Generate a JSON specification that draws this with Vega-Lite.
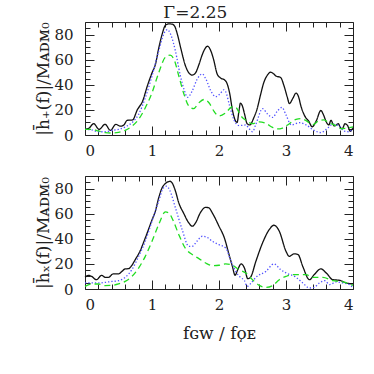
{
  "$schema": "https://vega.github.io/schema/vega-lite/v6.json",
  "padding": {"left": 34, "top": 3, "right": 0, "bottom": 0},
  "background": "white",
  "title": {"text": "Γ=2.25", "fontSize": 17, "font": "DejaVu Serif", "fontWeight": "normal", "anchor": "middle", "offset": -1, "color": "#222"},
  "config": {
    "view": {"stroke": "#222", "strokeWidth": 1},
    "axis": {"labelFont": "DejaVu Serif", "titleFont": "DejaVu Serif", "labelFontSize": 15, "titleFontSize": 17, "labelColor": "#222", "titleColor": "#222", "titleFontWeight": "normal", "grid": false, "domain": false, "tickColor": "#222", "tickWidth": 1}
  },
  "bounds": "flush",
  "spacing": 41,
  "datasets": {
    "plus": [
      {"s":"a","f":0,"v":4.5},{"s":"a","f":0.06,"v":5.5},{"s":"a","f":0.13,"v":9},{"s":"a","f":0.21,"v":4.5},{"s":"a","f":0.3,"v":8.5},{"s":"a","f":0.38,"v":3.7},{"s":"a","f":0.46,"v":8.5},{"s":"a","f":0.53,"v":7},{"s":"a","f":0.58,"v":8},{"s":"a","f":0.63,"v":11.7},{"s":"a","f":0.71,"v":12},{"s":"a","f":0.78,"v":20},{"s":"a","f":0.86,"v":27},{"s":"a","f":0.93,"v":39},{"s":"a","f":1.0,"v":49.5},{"s":"a","f":1.05,"v":56},{"s":"a","f":1.1,"v":69},{"s":"a","f":1.15,"v":80},{"s":"a","f":1.2,"v":87.4},{"s":"a","f":1.25,"v":88.5},{"s":"a","f":1.3,"v":88.3},{"s":"a","f":1.34,"v":86.5},{"s":"a","f":1.38,"v":80},{"s":"a","f":1.43,"v":69},{"s":"a","f":1.5,"v":55},{"s":"a","f":1.55,"v":49.5},{"s":"a","f":1.6,"v":47.7},{"s":"a","f":1.65,"v":49.5},{"s":"a","f":1.7,"v":56},{"s":"a","f":1.75,"v":64},{"s":"a","f":1.8,"v":69.5},{"s":"a","f":1.83,"v":70.7},{"s":"a","f":1.87,"v":68},{"s":"a","f":1.92,"v":60},{"s":"a","f":1.97,"v":49},{"s":"a","f":2.02,"v":45.5},{"s":"a","f":2.08,"v":44},{"s":"a","f":2.12,"v":41},{"s":"a","f":2.16,"v":33},{"s":"a","f":2.2,"v":20},{"s":"a","f":2.24,"v":12},{"s":"a","f":2.27,"v":10},{"s":"a","f":2.3,"v":20},{"s":"a","f":2.32,"v":25.4},{"s":"a","f":2.35,"v":23},{"s":"a","f":2.38,"v":17},{"s":"a","f":2.42,"v":9},{"s":"a","f":2.46,"v":8},{"s":"a","f":2.52,"v":13.8},{"s":"a","f":2.57,"v":21},{"s":"a","f":2.62,"v":32},{"s":"a","f":2.67,"v":42},{"s":"a","f":2.72,"v":47.5},{"s":"a","f":2.77,"v":50},{"s":"a","f":2.82,"v":48.5},{"s":"a","f":2.85,"v":47},{"s":"a","f":2.92,"v":45.8},{"s":"a","f":2.97,"v":39.2},{"s":"a","f":3.02,"v":30},{"s":"a","f":3.05,"v":25},{"s":"a","f":3.1,"v":29},{"s":"a","f":3.15,"v":33.4},{"s":"a","f":3.19,"v":30},{"s":"a","f":3.22,"v":23.6},{"s":"a","f":3.29,"v":14.2},{"s":"a","f":3.34,"v":11},{"s":"a","f":3.39,"v":6.5},{"s":"a","f":3.45,"v":11},{"s":"a","f":3.52,"v":19.5},{"s":"a","f":3.56,"v":16},{"s":"a","f":3.6,"v":10.5},{"s":"a","f":3.64,"v":8},{"s":"a","f":3.67,"v":11.7},{"s":"a","f":3.72,"v":7.2},{"s":"a","f":3.75,"v":8},{"s":"a","f":3.78,"v":9.1},{"s":"a","f":3.81,"v":6},{"s":"a","f":3.84,"v":5},{"s":"a","f":3.88,"v":9},{"s":"a","f":3.92,"v":7.4},{"s":"a","f":3.96,"v":3},{"s":"a","f":4.0,"v":6},
      {"s":"b","f":0,"v":4.5},{"s":"b","f":0.1,"v":4},{"s":"b","f":0.2,"v":2.6},{"s":"b","f":0.3,"v":2.6},{"s":"b","f":0.4,"v":3.7},{"s":"b","f":0.5,"v":4.5},{"s":"b","f":0.6,"v":6.4},{"s":"b","f":0.7,"v":9.8},{"s":"b","f":0.8,"v":16.4},{"s":"b","f":0.9,"v":29.7},{"s":"b","f":1.0,"v":47},{"s":"b","f":1.1,"v":66.8},{"s":"b","f":1.18,"v":81},{"s":"b","f":1.23,"v":84},{"s":"b","f":1.28,"v":80},{"s":"b","f":1.35,"v":66.8},{"s":"b","f":1.42,"v":48},{"s":"b","f":1.48,"v":36},{"s":"b","f":1.53,"v":30},{"s":"b","f":1.6,"v":35},{"s":"b","f":1.67,"v":44},{"s":"b","f":1.75,"v":48.7},{"s":"b","f":1.8,"v":45},{"s":"b","f":1.88,"v":35},{"s":"b","f":1.95,"v":30.5},{"s":"b","f":2.02,"v":33},{"s":"b","f":2.07,"v":36},{"s":"b","f":2.1,"v":34.4},{"s":"b","f":2.16,"v":23},{"s":"b","f":2.22,"v":12.5},{"s":"b","f":2.3,"v":7.5},{"s":"b","f":2.4,"v":8},{"s":"b","f":2.45,"v":5},{"s":"b","f":2.5,"v":2.6},{"s":"b","f":2.55,"v":8.5},{"s":"b","f":2.65,"v":21},{"s":"b","f":2.72,"v":17},{"s":"b","f":2.8,"v":14},{"s":"b","f":2.87,"v":19},{"s":"b","f":2.94,"v":22},{"s":"b","f":3.0,"v":16},{"s":"b","f":3.08,"v":8},{"s":"b","f":3.2,"v":9.8},{"s":"b","f":3.3,"v":8},{"s":"b","f":3.42,"v":3.7},{"s":"b","f":3.52,"v":1.9},{"s":"b","f":3.6,"v":4.5},{"s":"b","f":3.7,"v":8.5},{"s":"b","f":3.8,"v":7},{"s":"b","f":3.87,"v":3},{"s":"b","f":3.93,"v":2.6},{"s":"b","f":4.0,"v":5},
      {"s":"c","f":0,"v":4.5},{"s":"c","f":0.1,"v":4.5},{"s":"c","f":0.2,"v":3.2},{"s":"c","f":0.3,"v":1.9},{"s":"c","f":0.4,"v":1.6},{"s":"c","f":0.5,"v":2.1},{"s":"c","f":0.6,"v":3.7},{"s":"c","f":0.7,"v":7},{"s":"c","f":0.8,"v":12.5},{"s":"c","f":0.9,"v":21.7},{"s":"c","f":1.0,"v":33.6},{"s":"c","f":1.1,"v":49.5},{"s":"c","f":1.2,"v":62},{"s":"c","f":1.27,"v":63.6},{"s":"c","f":1.33,"v":60},{"s":"c","f":1.4,"v":47},{"s":"c","f":1.48,"v":32},{"s":"c","f":1.55,"v":23},{"s":"c","f":1.62,"v":21},{"s":"c","f":1.7,"v":25.7},{"s":"c","f":1.78,"v":28.3},{"s":"c","f":1.85,"v":25.7},{"s":"c","f":1.93,"v":18.5},{"s":"c","f":2.0,"v":15.2},{"s":"c","f":2.1,"v":17.7},{"s":"c","f":2.2,"v":22.5},{"s":"c","f":2.25,"v":22},{"s":"c","f":2.33,"v":15},{"s":"c","f":2.4,"v":11.7},{"s":"c","f":2.5,"v":9},{"s":"c","f":2.6,"v":10.5},{"s":"c","f":2.7,"v":9.3},{"s":"c","f":2.8,"v":6},{"s":"c","f":2.87,"v":4.8},{"s":"c","f":2.95,"v":5.5},{"s":"c","f":3.05,"v":9},{"s":"c","f":3.15,"v":12.5},{"s":"c","f":3.22,"v":13},{"s":"c","f":3.3,"v":11.5},{"s":"c","f":3.4,"v":8.3},{"s":"c","f":3.5,"v":11.7},{"s":"c","f":3.56,"v":12},{"s":"c","f":3.65,"v":9.5},{"s":"c","f":3.74,"v":7.5},{"s":"c","f":3.82,"v":5},{"s":"c","f":3.9,"v":5.5},{"s":"c","f":4.0,"v":6.5}
    ],
    "cross": [
      {"s":"a","f":0,"v":9.3},{"s":"a","f":0.05,"v":10.9},{"s":"a","f":0.1,"v":10},{"s":"a","f":0.17,"v":7.4},{"s":"a","f":0.25,"v":10.9},{"s":"a","f":0.3,"v":9.3},{"s":"a","f":0.35,"v":9.3},{"s":"a","f":0.42,"v":12},{"s":"a","f":0.5,"v":12},{"s":"a","f":0.55,"v":14},{"s":"a","f":0.6,"v":16},{"s":"a","f":0.65,"v":16.2},{"s":"a","f":0.7,"v":18.9},{"s":"a","f":0.75,"v":23.4},{"s":"a","f":0.82,"v":30},{"s":"a","f":0.9,"v":40.7},{"s":"a","f":1.0,"v":55},{"s":"a","f":1.05,"v":62},{"s":"a","f":1.1,"v":72.6},{"s":"a","f":1.15,"v":80.5},{"s":"a","f":1.2,"v":84},{"s":"a","f":1.27,"v":85.8},{"s":"a","f":1.3,"v":84.5},{"s":"a","f":1.35,"v":78},{"s":"a","f":1.4,"v":68.6},{"s":"a","f":1.47,"v":60.6},{"s":"a","f":1.55,"v":52.6},{"s":"a","f":1.6,"v":50},{"s":"a","f":1.65,"v":52.6},{"s":"a","f":1.72,"v":60.6},{"s":"a","f":1.8,"v":65},{"s":"a","f":1.85,"v":64.6},{"s":"a","f":1.9,"v":60.6},{"s":"a","f":2.0,"v":50},{"s":"a","f":2.08,"v":40.7},{"s":"a","f":2.15,"v":27.4},{"s":"a","f":2.2,"v":18},{"s":"a","f":2.24,"v":10.9},{"s":"a","f":2.28,"v":15.4},{"s":"a","f":2.33,"v":20},{"s":"a","f":2.38,"v":16.7},{"s":"a","f":2.43,"v":8.2},{"s":"a","f":2.47,"v":9.3},{"s":"a","f":2.55,"v":22},{"s":"a","f":2.65,"v":36.7},{"s":"a","f":2.75,"v":47.3},{"s":"a","f":2.82,"v":50.8},{"s":"a","f":2.9,"v":46},{"s":"a","f":3.0,"v":30},{"s":"a","f":3.05,"v":26},{"s":"a","f":3.12,"v":28},{"s":"a","f":3.18,"v":27.4},{"s":"a","f":3.25,"v":18},{"s":"a","f":3.35,"v":7.4},{"s":"a","f":3.42,"v":11.4},{"s":"a","f":3.52,"v":16},{"s":"a","f":3.6,"v":12.8},{"s":"a","f":3.7,"v":7.4},{"s":"a","f":3.8,"v":6.9},{"s":"a","f":3.9,"v":4.8},{"s":"a","f":4.0,"v":4},
      {"s":"b","f":0,"v":4.8},{"s":"b","f":0.2,"v":4.8},{"s":"b","f":0.4,"v":6},{"s":"b","f":0.5,"v":6.6},{"s":"b","f":0.6,"v":9.3},{"s":"b","f":0.7,"v":15.4},{"s":"b","f":0.8,"v":26},{"s":"b","f":0.9,"v":38},{"s":"b","f":1.0,"v":54},{"s":"b","f":1.1,"v":70},{"s":"b","f":1.17,"v":80.5},{"s":"b","f":1.22,"v":81.9},{"s":"b","f":1.27,"v":78},{"s":"b","f":1.35,"v":64.6},{"s":"b","f":1.45,"v":47.3},{"s":"b","f":1.55,"v":34},{"s":"b","f":1.6,"v":34},{"s":"b","f":1.67,"v":38},{"s":"b","f":1.75,"v":42},{"s":"b","f":1.82,"v":41.2},{"s":"b","f":1.9,"v":38},{"s":"b","f":2.0,"v":35.3},{"s":"b","f":2.1,"v":32.7},{"s":"b","f":2.18,"v":22},{"s":"b","f":2.25,"v":14},{"s":"b","f":2.32,"v":9.3},{"s":"b","f":2.38,"v":6.6},{"s":"b","f":2.42,"v":2.1},{"s":"b","f":2.48,"v":4.8},{"s":"b","f":2.55,"v":9.3},{"s":"b","f":2.7,"v":14},{"s":"b","f":2.82,"v":20},{"s":"b","f":2.92,"v":15.4},{"s":"b","f":3.0,"v":12.8},{"s":"b","f":3.15,"v":9.3},{"s":"b","f":3.25,"v":4.8},{"s":"b","f":3.35,"v":0.8},{"s":"b","f":3.42,"v":1.3},{"s":"b","f":3.5,"v":4.8},{"s":"b","f":3.58,"v":6.6},{"s":"b","f":3.65,"v":3.5},{"s":"b","f":3.75,"v":5.6},{"s":"b","f":3.85,"v":4.8},{"s":"b","f":3.95,"v":3.5},{"s":"b","f":4.0,"v":0.8},
      {"s":"c","f":0,"v":2.1},{"s":"c","f":0.1,"v":4},{"s":"c","f":0.2,"v":4},{"s":"c","f":0.3,"v":2.7},{"s":"c","f":0.4,"v":2.9},{"s":"c","f":0.5,"v":4},{"s":"c","f":0.6,"v":6.1},{"s":"c","f":0.7,"v":10},{"s":"c","f":0.8,"v":16.7},{"s":"c","f":0.9,"v":26},{"s":"c","f":1.0,"v":38},{"s":"c","f":1.1,"v":51.3},{"s":"c","f":1.2,"v":61.4},{"s":"c","f":1.25,"v":60.6},{"s":"c","f":1.32,"v":54},{"s":"c","f":1.4,"v":43.3},{"s":"c","f":1.5,"v":32.2},{"s":"c","f":1.6,"v":27.4},{"s":"c","f":1.7,"v":24.2},{"s":"c","f":1.8,"v":20.7},{"s":"c","f":1.9,"v":18.6},{"s":"c","f":2.0,"v":18.9},{"s":"c","f":2.1,"v":20},{"s":"c","f":2.2,"v":18.9},{"s":"c","f":2.3,"v":15.4},{"s":"c","f":2.4,"v":12.8},{"s":"c","f":2.5,"v":7.4},{"s":"c","f":2.6,"v":2.9},{"s":"c","f":2.7,"v":1.3},{"s":"c","f":2.8,"v":2.7},{"s":"c","f":2.9,"v":7.4},{"s":"c","f":3.0,"v":10},{"s":"c","f":3.1,"v":11.4},{"s":"c","f":3.2,"v":11.4},{"s":"c","f":3.3,"v":11.4},{"s":"c","f":3.4,"v":9.3},{"s":"c","f":3.55,"v":9.3},{"s":"c","f":3.7,"v":6.6},{"s":"c","f":3.85,"v":5.6},{"s":"c","f":4.0,"v":2.9}
    ]
  },
  "vconcat": [
    {
      "width": 268, "height": 113,
      "data": {"name": "plus"},
      "layer": [
        {"mark": {"type": "line", "strokeWidth": 1.3, "interpolate": "monotone"},
         "encoding": {
           "x": {"field": "f", "type": "quantitative", "scale": {"domain": [0, 4], "nice": false, "zero": false}, "axis": {"orient": "bottom", "values": [0,1,2,3,4], "tickSize": -9, "labelPadding": 17, "title": null}},
           "y": {"field": "v", "type": "quantitative", "scale": {"domain": [0, 90], "nice": false}, "axis": {"orient": "left", "values": [0,20,40,60,80], "tickSize": -9, "labelPadding": 21, "title": "|h̄₊(f)|/Mᴀᴅᴍ₀", "titlePadding": 1}},
           "color": {"field": "s", "type": "nominal", "scale": {"domain": ["a","b","c"], "range": ["#111111", "#5050ff", "#22dd22"]}, "legend": null},
           "strokeDash": {"field": "s", "type": "nominal", "scale": {"domain": ["a","b","c"], "range": [[1,0],[1.3,2],[6,4]]}, "legend": null}
         }},
        {"mark": {"type": "point", "opacity": 0},
         "encoding": {
           "x": {"field": "f", "type": "quantitative", "axis": {"orient": "bottom", "values": [0.2,0.4,0.6,0.8,1.2,1.4,1.6,1.8,2.2,2.4,2.6,2.8,3.2,3.4,3.6,3.8], "tickSize": -5, "labels": false, "title": null}},
           "y": {"field": "v", "type": "quantitative", "axis": {"orient": "left", "values": [5,10,15,25,30,35,45,50,55,65,70,75,85], "tickSize": -5, "labels": false, "title": null}}
         }},
        {"mark": {"type": "point", "opacity": 0},
         "encoding": {
           "x": {"field": "f", "type": "quantitative", "axis": {"orient": "top", "values": [0,1,2,3,4], "tickSize": -9, "labels": false, "title": null}},
           "y": {"field": "v", "type": "quantitative", "axis": {"orient": "right", "values": [0,20,40,60,80], "tickSize": -9, "labels": false, "title": null}}
         }},
        {"mark": {"type": "point", "opacity": 0},
         "encoding": {
           "x": {"field": "f", "type": "quantitative", "axis": {"orient": "top", "values": [0.2,0.4,0.6,0.8,1.2,1.4,1.6,1.8,2.2,2.4,2.6,2.8,3.2,3.4,3.6,3.8], "tickSize": -5, "labels": false, "title": null}},
           "y": {"field": "v", "type": "quantitative", "axis": {"orient": "right", "values": [5,10,15,25,30,35,45,50,55,65,70,75,85], "tickSize": -5, "labels": false, "title": null}}
         }}
      ],
      "resolve": {"axis": {"x": "independent", "y": "independent"}}
    },
    {
      "width": 268, "height": 113,
      "data": {"name": "cross"},
      "layer": [
        {"mark": {"type": "line", "strokeWidth": 1.3, "interpolate": "monotone"},
         "encoding": {
           "x": {"field": "f", "type": "quantitative", "scale": {"domain": [0, 4], "nice": false, "zero": false}, "axis": {"orient": "bottom", "values": [0,1,2,3,4], "tickSize": -9, "labelPadding": 17, "title": "fɢᴡ / fǫᴇ", "titlePadding": 13}},
           "y": {"field": "v", "type": "quantitative", "scale": {"domain": [0, 90], "nice": false}, "axis": {"orient": "left", "values": [0,20,40,60,80], "tickSize": -9, "labelPadding": 21, "title": "|h̄ₓ(f)|/Mᴀᴅᴍ₀", "titlePadding": 1}},
           "color": {"field": "s", "type": "nominal", "scale": {"domain": ["a","b","c"], "range": ["#111111", "#5050ff", "#22dd22"]}, "legend": null},
           "strokeDash": {"field": "s", "type": "nominal", "scale": {"domain": ["a","b","c"], "range": [[1,0],[1.3,2],[6,4]]}, "legend": null}
         }},
        {"mark": {"type": "point", "opacity": 0},
         "encoding": {
           "x": {"field": "f", "type": "quantitative", "axis": {"orient": "bottom", "values": [0.2,0.4,0.6,0.8,1.2,1.4,1.6,1.8,2.2,2.4,2.6,2.8,3.2,3.4,3.6,3.8], "tickSize": -5, "labels": false, "title": null}},
           "y": {"field": "v", "type": "quantitative", "axis": {"orient": "left", "values": [5,10,15,25,30,35,45,50,55,65,70,75,85], "tickSize": -5, "labels": false, "title": null}}
         }},
        {"mark": {"type": "point", "opacity": 0},
         "encoding": {
           "x": {"field": "f", "type": "quantitative", "axis": {"orient": "top", "values": [0,1,2,3,4], "tickSize": -9, "labels": false, "title": null}},
           "y": {"field": "v", "type": "quantitative", "axis": {"orient": "right", "values": [0,20,40,60,80], "tickSize": -9, "labels": false, "title": null}}
         }},
        {"mark": {"type": "point", "opacity": 0},
         "encoding": {
           "x": {"field": "f", "type": "quantitative", "axis": {"orient": "top", "values": [0.2,0.4,0.6,0.8,1.2,1.4,1.6,1.8,2.2,2.4,2.6,2.8,3.2,3.4,3.6,3.8], "tickSize": -5, "labels": false, "title": null}},
           "y": {"field": "v", "type": "quantitative", "axis": {"orient": "right", "values": [5,10,15,25,30,35,45,50,55,65,70,75,85], "tickSize": -5, "labels": false, "title": null}}
         }}
      ],
      "resolve": {"axis": {"x": "independent", "y": "independent"}}
    }
  ]
}
